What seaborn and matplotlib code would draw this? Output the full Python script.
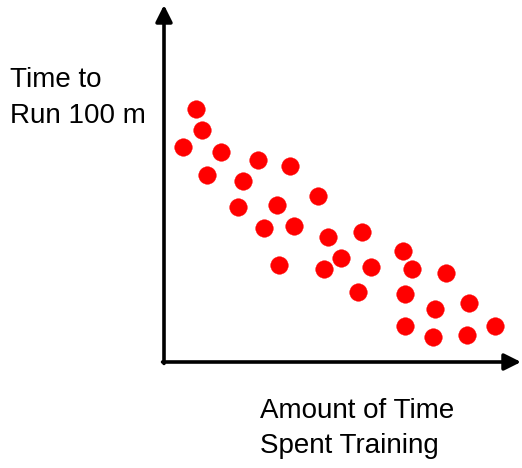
import matplotlib
matplotlib.use("Agg")
import matplotlib.pyplot as plt
import seaborn as sns
import pandas as pd

# Data (arbitrary units: training amount vs. run time)
training = [3.2, 3.8, 1.9, 5.7, 4.3, 9.4, 12.6, 7.9, 7.4, 11.3, 15.4, 10.0, 13.0, 16.4, 19.8,
            17.7, 11.5, 16.0, 20.7, 19.4, 23.9, 24.8, 28.2, 24.1, 27.1, 30.5, 24.1, 26.9, 30.3, 33.1]
run_time = [25.3, 23.2, 21.5, 21.0, 18.7, 20.2, 19.6, 18.1, 15.5, 15.7, 16.6, 13.4, 13.6, 12.5, 13.0,
            10.4, 9.7, 9.3, 9.5, 7.0, 11.1, 9.3, 8.9, 6.8, 5.3, 5.9, 3.6, 2.5, 2.7, 3.6]
y_label_lines = ["Time to", "Run 100 m"]
x_label_lines = ["Amount of Time", "Spent Training"]

df = pd.DataFrame({"training": training, "time": run_time})

sns.set_style("white")
plt.rcParams["font.family"] = ["Liberation Sans", "DejaVu Sans"]

W, H = 522, 468
fig = plt.figure(figsize=(W / 100, H / 100), dpi=100)
ox, oy = 164, 362  # origin in pixels
right, top = 521, 5
ax = fig.add_axes([ox / W, 1 - oy / H, (right - ox) / W, (oy - top) / H])
ax.patch.set_alpha(0)

sns.scatterplot(data=df, x="training", y="time", ax=ax, color="#ff0000",
                s=160, edgecolor="#ff0000", linewidth=0.3, legend=False, clip_on=False)

ax.set_xlim(0, (right - ox) / 10)
ax.set_ylim(0, (oy - top) / 10)
for sp in ax.spines.values():
    sp.set_visible(False)
ax.set_xticks([])
ax.set_yticks([])
ax.set_xlabel("")
ax.set_ylabel("")

arrow = dict(arrowstyle="-|>,head_length=1.0,head_width=0.5", color="black", lw=2.6,
             shrinkA=0, shrinkB=0, mutation_scale=10)
ax.annotate("", xy=(0, 1), xytext=(0, -0.004), xycoords="axes fraction", arrowprops=arrow)
ax.annotate("", xy=(1, 0), xytext=(-0.004, 0), xycoords="axes fraction", arrowprops=arrow)

fs = 20
tc = "black"
fig.text(10 / W, 1 - 87 / H, y_label_lines[0], fontsize=fs, va="baseline", ha="left", color=tc)
fig.text(10 / W, 1 - 123 / H, y_label_lines[1], fontsize=fs, va="baseline", ha="left", color=tc)
fig.text(260 / W, 1 - 418 / H, x_label_lines[0], fontsize=fs, va="baseline", ha="left", color=tc)
fig.text(260 / W, 1 - 453 / H, x_label_lines[1], fontsize=fs, va="baseline", ha="left", color=tc)

fig.savefig("out.png", dpi=100, facecolor="white")
